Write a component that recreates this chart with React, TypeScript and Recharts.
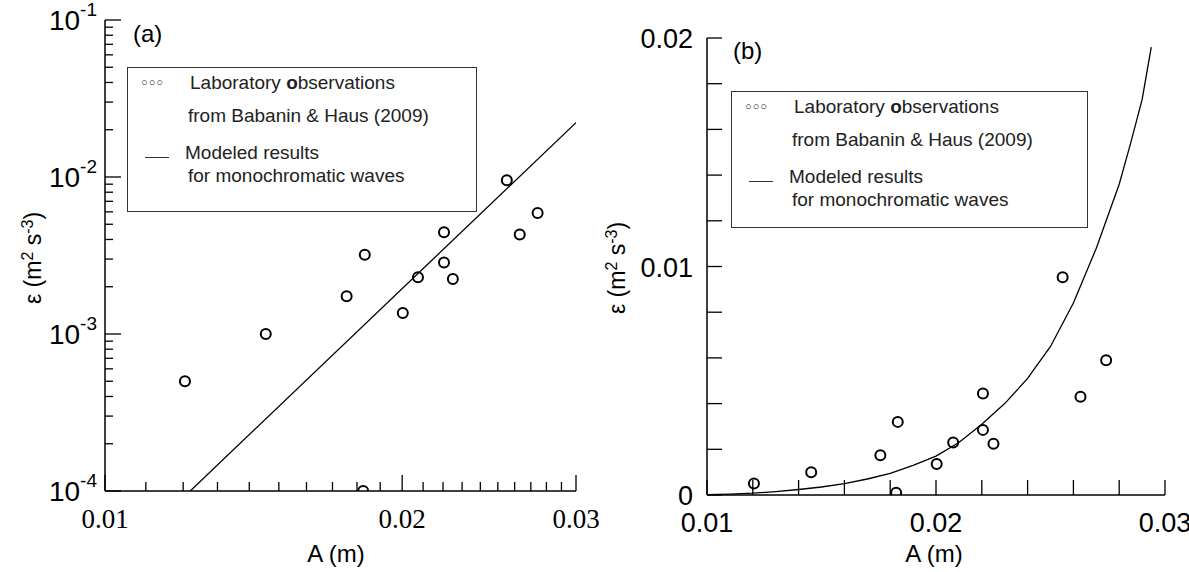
import React from 'react'
import { ScatterChart, Scatter, XAxis, YAxis } from 'recharts'

// Laboratory observations (Babanin & Haus 2009)
const obsA = [0.01205, 0.01455, 0.01757, 0.01833, 0.01826, 0.02003, 0.02075, 0.02205, 0.02205, 0.02251, 0.02553, 0.02631, 0.02743]
const obsEps = [0.0005, 0.001, 0.00174, 0.0032, 0.0001, 0.00136, 0.0023, 0.00444, 0.00285, 0.00224, 0.00953, 0.0043, 0.0059]

// modeled line, panel (a) log-log
const modelA_a = [0.0122, 0.03]
const modelEps_a = [0.0001, 0.0222]

// modeled curve, panel (b) linear
const modelA_b = [0.01, 0.011, 0.012, 0.013, 0.014, 0.015, 0.016, 0.017, 0.018, 0.019, 0.02, 0.021, 0.022, 0.023, 0.024, 0.025, 0.026, 0.027, 0.028, 0.0285, 0.029, 0.0294]
const modelEps_b = [0.00001, 0.00004, 0.00008, 0.00015, 0.00024, 0.00035, 0.0005, 0.0007, 0.00095, 0.0013, 0.0017, 0.0023, 0.0031, 0.004, 0.0051, 0.0065, 0.0084, 0.0108, 0.0136, 0.0154, 0.0173, 0.0196]

const xMajor = [0.01, 0.02, 0.03]
const xMinorLog = [0.011, 0.012, 0.013, 0.014, 0.015, 0.016, 0.017, 0.018, 0.019, 0.021, 0.022, 0.023, 0.024, 0.025, 0.026, 0.027, 0.028, 0.029]
const yMajorLog = [0.0001, 0.001, 0.01, 0.1]
const yMinorLog = [0.0002, 0.0003, 0.0004, 0.0005, 0.0006, 0.0007, 0.0008, 0.0009, 0.002, 0.003, 0.004, 0.005, 0.006, 0.007, 0.008, 0.009, 0.02, 0.03, 0.04, 0.05, 0.06, 0.07, 0.08, 0.09]
const xTicksLin = [0.01, 0.012, 0.014, 0.016, 0.018, 0.02, 0.022, 0.024, 0.026, 0.028, 0.03]
const yTicksLin = [0, 0.002, 0.004, 0.006, 0.008, 0.01, 0.012, 0.014, 0.016, 0.018, 0.02]
const yMajorLin = [0, 0.01, 0.02]

const obs = obsA.map((a, i) => ({ a, e: obsEps[i] }))
const lineA = modelA_a.map((a, i) => ({ a, e: modelEps_a[i] }))
const lineB = modelA_b.map((a, i) => ({ a, e: modelEps_b[i] }))

const ARIAL = 'Arial, "Liberation Sans", sans-serif'
const TIMES = '"Times New Roman", "Liberation Serif", serif'

const Circle = (p: any) => <circle cx={p.cx} cy={p.cy} r={5} fill="none" stroke="#000" strokeWidth={2} />
const NoDot = () => null

const isMajor = (v: number, majors: number[]) => majors.some(m => Math.abs(m - v) < 1e-9)

const makeXTick = (axisY: number, labelFont: string, minorLen: number, majorLen: number) => (p: any) => {
  const v = p.payload.value
  const major = isMajor(v, xMajor)
  return (
    <g>
      <line x1={p.x} x2={p.x} y1={axisY} y2={axisY - (major ? majorLen : minorLen)} stroke="#000" strokeWidth={1.3} />
      {major && (
        <text x={p.x} y={axisY + 37} textAnchor="middle" fontFamily={labelFont} fontSize={27} fill="#000">
          {String(v)}
        </text>
      )}
    </g>
  )
}

const LogYTick = (axisX: number) => (p: any) => {
  const v = p.payload.value
  const major = isMajor(v, yMajorLog)
  const exp = Math.round(Math.log10(v))
  return (
    <g>
      <line x1={axisX} x2={axisX + (major ? 16 : 8)} y1={p.y} y2={p.y} stroke="#000" strokeWidth={1.3} />
      {major && (
        <text x={axisX - 8} y={p.y + 10} textAnchor="end" fontFamily={ARIAL} fontSize={28} fill="#000">
          10<tspan fontSize={19} dy={-14}>{String(exp)}</tspan>
        </text>
      )}
    </g>
  )
}

const LinYTick = (axisX: number) => (p: any) => {
  const v = p.payload.value
  const major = isMajor(v, yMajorLin)
  return (
    <g>
      <line x1={axisX} x2={axisX + 15} y1={p.y} y2={p.y} stroke="#000" strokeWidth={1.3} />
      {major && (
        <text x={axisX - 14} y={p.y + 10} textAnchor="end" fontFamily={ARIAL} fontSize={27} fill="#000">
          {String(v)}
        </text>
      )}
    </g>
  )
}

const Legend = ({ left, top, width, height }: any) => (
  <div style={{ position: 'absolute', left, top, width, height, border: '1.5px solid #333', fontFamily: ARIAL, fontSize: 19, color: '#222', boxSizing: 'border-box' }}>
    <div style={{ position: 'absolute', left: 13, top: 8, fontSize: 11, letterSpacing: 1 }}>○○○</div>
    <div style={{ position: 'absolute', left: 62, top: 4 }}>Laboratory <b>o</b>bservations</div>
    <div style={{ position: 'absolute', left: 60, top: 37 }}>from Babanin &amp; Haus (2009)</div>
    <div style={{ position: 'absolute', left: 17, top: 89, width: 24, borderTop: '1.5px solid #333' }} />
    <div style={{ position: 'absolute', left: 57, top: 74 }}>Modeled results</div>
    <div style={{ position: 'absolute', left: 60, top: 97 }}>for monochromatic waves</div>
  </div>
)

const YLabel = ({ left, top }: any) => (
  <div style={{ position: 'absolute', left, top, transform: 'translate(-50%,-50%) rotate(-90deg)', fontFamily: ARIAL, fontSize: 23, whiteSpace: 'nowrap' }}>
    ε (m<sup style={{ fontSize: 16 }}>2</sup> s<sup style={{ fontSize: 16 }}>-3</sup>)
  </div>
)

const XLabel = ({ left, top }: any) => (
  <div style={{ position: 'absolute', left, top, transform: 'translate(-50%,0)', fontFamily: ARIAL, fontSize: 24, whiteSpace: 'nowrap' }}>A (m)</div>
)

export default function App() {
  // panel (a): plot 105..576 x 20..491 ; panel (b): plot 707..1165 x 38..495
  return (
    <div style={{ position: 'absolute', left: 0, top: 0, width: 1189, height: 572, background: '#fff', overflow: 'hidden' }}>
      <div style={{ position: 'absolute', left: 0, top: 0 }}>
        <ScatterChart width={600} height={572} margin={{ top: 20, right: 24, bottom: 41, left: 25 }}>
          <XAxis type="number" dataKey="a" scale="log" domain={[0.01, 0.03]} allowDataOverflow ticks={[...xMajor, ...xMinorLog]}
            interval={0} height={40} tickLine={false} stroke="#000" strokeWidth={1.5} tick={makeXTick(491, TIMES, 9, 16)} />
          <YAxis type="number" dataKey="e" scale="log" domain={[0.0001, 0.1]} allowDataOverflow ticks={[...yMajorLog, ...yMinorLog]}
            interval={0} width={80} tickLine={false} stroke="#000" strokeWidth={1.5} tick={LogYTick(105)} />
          <Scatter data={lineA} line={{ stroke: '#000', strokeWidth: 1.3 }} shape={NoDot} isAnimationActive={false} />
          <Scatter data={obs} shape={Circle} isAnimationActive={false} />
        </ScatterChart>
      </div>
      <div style={{ position: 'absolute', left: 600, top: 0 }}>
        <ScatterChart width={589} height={572} margin={{ top: 38, right: 24, bottom: 37, left: 27 }}>
          <XAxis type="number" dataKey="a" domain={[0.01, 0.03]} allowDataOverflow ticks={xTicksLin}
            interval={0} height={40} tickLine={false} stroke="#000" strokeWidth={1.5} tick={makeXTick(495, ARIAL, 15, 15)} />
          <YAxis type="number" dataKey="e" domain={[0, 0.02]} allowDataOverflow ticks={yTicksLin}
            interval={0} width={80} tickLine={false} stroke="#000" strokeWidth={1.5} tick={LinYTick(107)} />
          <Scatter data={lineB} line={{ stroke: '#000', strokeWidth: 1.3 }} lineType="joint" shape={NoDot} isAnimationActive={false} />
          <Scatter data={obs} shape={Circle} isAnimationActive={false} />
        </ScatterChart>
      </div>
      <div style={{ position: 'absolute', left: 133, top: 20, fontFamily: ARIAL, fontSize: 24 }}>(a)</div>
      <div style={{ position: 'absolute', left: 733, top: 37, fontFamily: ARIAL, fontSize: 24 }}>(b)</div>
      <Legend left={127} top={67} width={350} height={145} />
      <Legend left={731} top={91} width={357} height={137} />
      <YLabel left={33} top={258} />
      <YLabel left={617} top={268} />
      <XLabel left={336} top={540} />
      <XLabel left={934} top={540} />
    </div>
  )
}
